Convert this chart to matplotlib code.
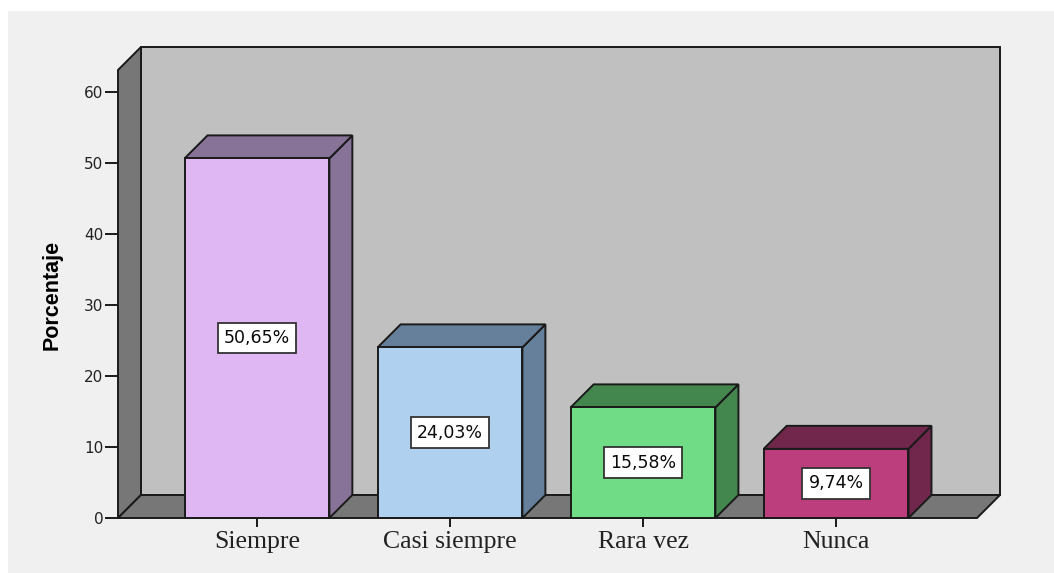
import matplotlib
matplotlib.use("Agg")
import matplotlib.pyplot as plt
from matplotlib.patches import Polygon, Rectangle

# data
categories = ["Siempre", "Casi siempre", "Rara vez", "Nunca"]
porcentajes = [50.65, 24.03, 15.58, 9.74]
etiquetas = ["50,65%", "24,03%", "15,58%", "9,74%"]
front_colors = ["#dfb8f3", "#afd0ef", "#70dc85", "#bc3e7c"]
side_colors = ["#877298", "#66809b", "#43874f", "#71274c"]
yticks = [0, 10, 20, 30, 40, 50, 60]

W, H = 1054, 573
fig = plt.figure(figsize=(W / 100, H / 100), dpi=100)
fig.patch.set_facecolor("white")
# light grey panel behind the chart
fig.patches.append(Rectangle((8 / W, 0), 1 - 8 / W, 1 - 11 / H,
                             transform=fig.transFigure, facecolor="#f0f0f0",
                             edgecolor="none", zorder=-10))

# 3d box geometry (data units)
x0, x1 = -0.72, 3.73
ytop = 63.1
dx, dy = 0.119, 3.24
bw = 0.75
edge = "#1a1a1a"
lw = 1.4

ax = fig.add_axes([118 / W, 55 / H, 882 / W, 471 / H])
ax.set_xlim(x0, x1 + dx)
ax.set_ylim(0, ytop + dy)
ax.patch.set_visible(False)
for s in ax.spines.values():
    s.set_visible(False)

def poly(pts, fc, z):
    ax.add_patch(Polygon(pts, closed=True, facecolor=fc, edgecolor=edge,
                         linewidth=lw, joinstyle="miter", zorder=z, clip_on=False))

# walls and floor
poly([(x0 + dx, dy), (x1 + dx, dy), (x1 + dx, ytop + dy), (x0 + dx, ytop + dy)], "#c0c0c0", 1)
poly([(x0, 0), (x0 + dx, dy), (x0 + dx, ytop + dy), (x0, ytop)], "#777777", 2)
poly([(x0, 0), (x1, 0), (x1 + dx, dy), (x0 + dx, dy)], "#777777", 2)

# bars
for i, (v, fc, sc, lab) in enumerate(zip(porcentajes, front_colors, side_colors, etiquetas)):
    l, r = i - bw / 2, i + bw / 2
    poly([(r, 0), (r + dx, dy), (r + dx, v + dy), (r, v)], sc, 3)
    poly([(l, v), (r, v), (r + dx, v + dy), (l + dx, v + dy)], sc, 3)
    poly([(l, 0), (r, 0), (r, v), (l, v)], fc, 4)
    ax.text(i, v / 2, lab, ha="center", va="center", fontsize=12.5,
            family="DejaVu Sans", color="#0a0a0a", zorder=6,
            bbox=dict(boxstyle="square,pad=0.36", facecolor="white",
                      edgecolor="#333333", linewidth=1.3))

ax.set_yticks(yticks)
ax.set_yticklabels([str(t) for t in yticks], fontsize=11, family="DejaVu Sans", color="#222222")
ax.tick_params(axis="y", length=9.5, width=1.4, color=edge, pad=1)
ax.set_xticks(range(len(categories)))
ax.set_xticklabels(categories, fontsize=18.5, family="Liberation Serif", color="#222222")
ax.tick_params(axis="x", length=6.5, width=1.4, color=edge, pad=3)

ax.set_ylabel("Porcentaje", fontsize=15.5, fontweight="bold", family="Liberation Sans")
ax.yaxis.set_label_coords(-0.063, 0.473)

fig.savefig("out.png", dpi=100, facecolor=fig.get_facecolor())
